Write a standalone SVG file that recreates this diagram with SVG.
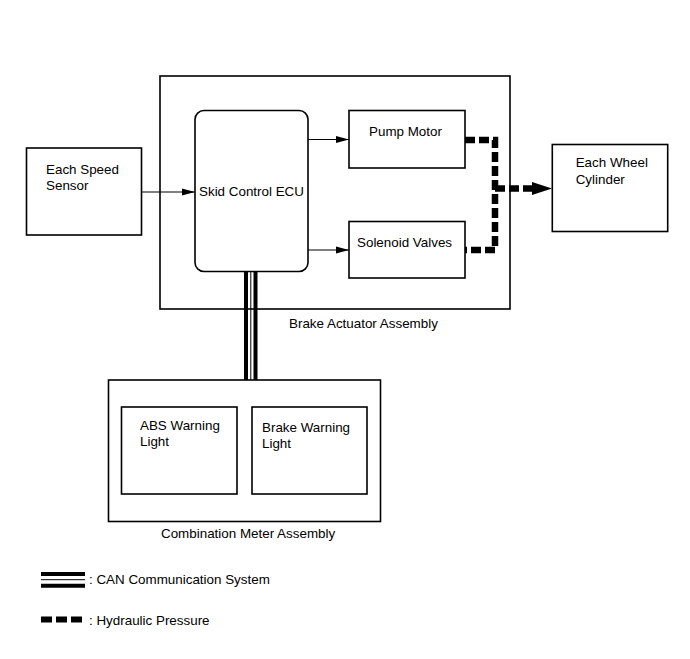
<svg xmlns="http://www.w3.org/2000/svg" width="690" height="659" viewBox="0 0 690 659">
<defs>
<style>
.box{fill:#fff;stroke:#000;stroke-width:1.6}
.t{font-family:"Liberation Sans",Arial,sans-serif;font-size:13.4px;fill:#000}
.thin{stroke:#000;stroke-width:1.2;fill:none}
.hyd{stroke:#000;stroke-width:6.5;fill:none;stroke-dasharray:10 4}
</style>
<marker id="arr" markerWidth="13" markerHeight="8" refX="13" refY="4" orient="auto" markerUnits="userSpaceOnUse">
<path d="M0,0.5 L13,4 L0,7.5 z" fill="#000"/>
</marker>
</defs>
<rect width="690" height="659" fill="#fff"/>

<g id="brake-actuator-assembly">
<rect class="box" x="160" y="76" width="350" height="233"/>
<text class="t" x="289" y="328">Brake Actuator Assembly</text>
</g>

<g id="combination-meter-assembly">
<rect class="box" x="108.5" y="380" width="272" height="141.5"/>
<text class="t" x="161" y="538">Combination Meter Assembly</text>
</g>

<g id="each-speed-sensor">
<rect class="box" x="26.5" y="148" width="115" height="87"/>
<text class="t" x="46" y="173.5">Each Speed</text>
<text class="t" x="46" y="189.5">Sensor</text>
</g>

<g id="skid-control-ecu">
<rect class="box" x="195" y="110.5" width="113" height="161" rx="9" ry="9"/>
<text class="t" x="199" y="195.5">Skid Control ECU</text>
</g>

<g id="pump-motor">
<rect class="box" x="349" y="110.5" width="116" height="57.5"/>
<text class="t" x="369" y="135.5">Pump Motor</text>
</g>

<g id="solenoid-valves">
<rect class="box" x="349" y="221.5" width="116" height="56.5"/>
<text class="t" x="357" y="247">Solenoid Valves</text>
</g>

<g id="each-wheel-cylinder">
<rect class="box" x="552.3" y="144.5" width="115.4" height="87"/>
<text class="t" x="575.7" y="167.3">Each Wheel</text>
<text class="t" x="575.7" y="184">Cylinder</text>
</g>

<g id="abs-warning-light">
<rect class="box" x="121.5" y="407" width="115.5" height="87"/>
<text class="t" x="140" y="430">ABS Warning</text>
<text class="t" x="140" y="446">Light</text>
</g>

<g id="brake-warning-light">
<rect class="box" x="252" y="407" width="115" height="87"/>
<text class="t" x="262" y="431.5">Brake Warning</text>
<text class="t" x="262" y="447.5">Light</text>
</g>

<g id="connectors">
<line class="thin" x1="141.5" y1="192" x2="195" y2="192" marker-end="url(#arr)"/>
<line class="thin" x1="308" y1="139.5" x2="349" y2="139.5" marker-end="url(#arr)"/>
<line class="thin" x1="308" y1="250" x2="349" y2="250" marker-end="url(#arr)"/>
<path class="hyd" d="M465,140 H495 V250 H465"/>
<line class="hyd" x1="495" y1="188.5" x2="534" y2="188.5"/>
<polygon points="532,182 552,188.5 532,195" fill="#000"/>
<g id="can-bus">
<line x1="246" y1="271.5" x2="246" y2="380" stroke="#000" stroke-width="4"/>
<line x1="250.8" y1="271.5" x2="250.8" y2="380" stroke="#000" stroke-width="1"/>
<line x1="255.5" y1="271.5" x2="255.5" y2="380" stroke="#000" stroke-width="4"/>
</g>
</g>

<g id="legend">
<line x1="41" y1="574" x2="85" y2="574" stroke="#000" stroke-width="4"/>
<line x1="41" y1="579.7" x2="85" y2="579.7" stroke="#000" stroke-width="1"/>
<line x1="41" y1="585.7" x2="85" y2="585.7" stroke="#000" stroke-width="4"/>
<text class="t" x="89" y="584">:  CAN Communication System</text>
<line x1="41" y1="619.5" x2="85" y2="619.5" stroke="#000" stroke-width="6" stroke-dasharray="11 4"/>
<text class="t" x="89" y="624.5">:  Hydraulic Pressure</text>
</g>
</svg>
